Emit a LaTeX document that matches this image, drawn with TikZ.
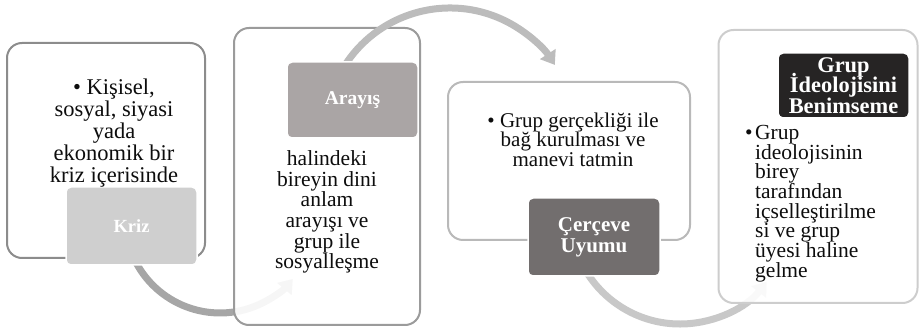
\documentclass[tikz,border=0pt]{standalone}
\usepackage{fontspec}
\setmainfont{Liberation Serif}
\usetikzlibrary{arrows.meta}
\definecolor{bordA}{RGB}{140,140,140}
\definecolor{bordB}{RGB}{155,155,155}
\definecolor{bordC}{RGB}{185,185,185}
\definecolor{bordD}{RGB}{205,205,205}
\definecolor{arrA}{RGB}{166,166,166}
\definecolor{arrB}{RGB}{188,188,188}
\definecolor{arrC}{RGB}{200,200,200}
\definecolor{labA}{RGB}{207,207,207}
\definecolor{labB}{RGB}{170,165,165}
\definecolor{labC}{RGB}{114,110,110}
\definecolor{labD}{RGB}{38,36,36}
\definecolor{txt}{RGB}{13,13,13}
\newcommand{\fsz}[2]{\fontsize{#1}{#2}\selectfont\lineskiplimit=-100pt\lineskip=0pt}
\tikzset{
  bigbox/.style={draw, line width=2pt, rounded corners=15pt, inner sep=0pt},
  labbox/.style={draw=white, line width=1.5pt, rounded corners=5pt, inner sep=0pt, text=white, align=center},
  bodytxt/.style={inner sep=0pt, text=txt, align=center},
  circarrow/.style={line width=7pt, -{Triangle[width=18pt,length=13pt]}}
}
\begin{document}
\begin{tikzpicture}[x=1pt,y=1pt]
\useasboundingbox (0,0) rectangle (919,-328);
% box 1
\node[bigbox, draw=bordA, fill=white, minimum width=198pt, minimum height=215pt] (b1) at (106,-150.5) {};
% arrow 1
\coordinate (a1s) at (133.2,-256.6);
\draw[circarrow, draw=arrA] (a1s) arc[start angle=204, end angle=320, radius=95];
% box 2
\node[bigbox, draw=bordB, fill=white, fill opacity=0.9, minimum width=186pt, minimum height=297pt] (b2) at (327,-176.5) {};
% arrow 2
\coordinate (a2s) at (341.75,-70.5);
\draw[circarrow, draw=arrB] (a2s) arc[start angle=150, end angle=33, radius=125];
% labels 1,2
\node[labbox, fill=labA, minimum width=131pt, minimum height=78pt, font=\fsz{18.5}{20}\bfseries] (l1) at (131.5,-226) {Kriz};
\node[labbox, fill=labB, minimum width=131pt, minimum height=76pt, font=\fsz{19.5}{21}\bfseries] (l2) at (352.5,-100) {Arayış};
% box 3
\node[bigbox, draw=bordC, fill=white, fill opacity=0.9, minimum width=242pt, minimum height=158pt] (b3) at (569,-161) {};
% arrow 3
\coordinate (a3s) at (586.7,-272.3);
\draw[circarrow, draw=arrC] (a3s) arc[start angle=212, end angle=322, radius=110];
% box 4
\node[bigbox, draw=bordD, fill=white, fill opacity=0.9, minimum width=199pt, minimum height=273pt] (b4) at (818,-166.5) {};
% labels 3,4
\node[labbox, fill=labC, minimum width=132pt, minimum height=78pt, font=\fsz{21}{21}\bfseries] (l3) at (594,-237) {Çerçeve\\Uyumu};
\node[labbox, fill=labD, minimum width=131pt, minimum height=65pt, font=\fsz{22.4}{20.5}\bfseries] (l4) at (843.5,-85.5) {Grup\\İdeolojisini\\Benimseme};
% body texts
\node[bodytxt, anchor=north, font=\fsz{22.5}{22}] (t1) at (114,-78.5) {• Kişisel,\\sosyal, siyasi\\yada\\ekonomik bir\\kriz içerisinde};
\node[bodytxt, anchor=north, font=\fsz{21.5}{20.7}] (t2) at (327,-150.3) {halindeki\\bireyin dini\\anlam\\arayışı ve\\grup ile\\sosyalleşme};
\node[bodytxt, anchor=north, font=\fsz{21}{19.5}] (t3) at (573,-112.7) {• Grup gerçekliği ile\\bağ kurulması ve\\manevi tatmin};
\node[bodytxt, align=left, anchor=north west, font=\fsz{21.5}{19.7}] (t4) at (755,-125) {\llap{•\hspace{2.5pt}}Grup\\ideolojisinin\\birey\\tarafından\\içselleştirilme\\si ve grup\\üyesi haline\\gelme};
\end{tikzpicture}
\end{document}
